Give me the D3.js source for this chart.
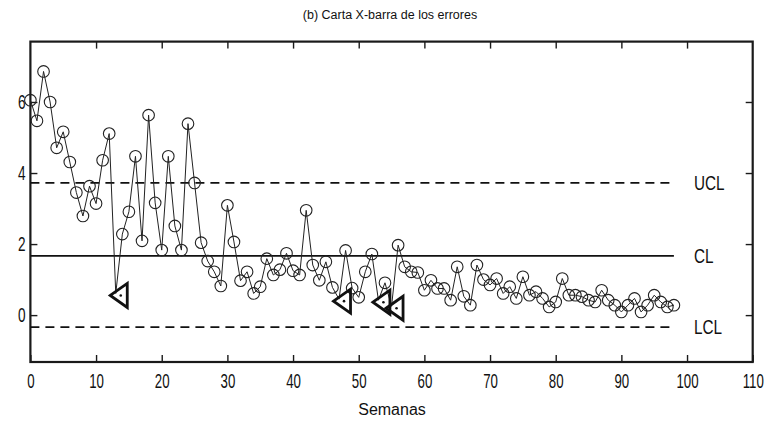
<!DOCTYPE html>
<html>
<head>
<meta charset="utf-8">
<script src="https://cdn.jsdelivr.net/npm/d3@7"></script>
<style>
  html, body { margin: 0; padding: 0; background: #fff; }
  svg { display: block; }
</style>
</head>
<body>
<svg id="chart" width="768" height="427"></svg>
<script>
// ---- data ----
const weekValues = [
  6.05, 5.47, 6.86, 6.00, 4.71, 5.16, 4.31, 3.45, 2.79, 3.63,
  3.14, 4.36, 5.11, 0.61, 2.28, 2.91, 4.47, 2.09, 5.63, 3.16,
  1.83, 4.47, 2.51, 1.83, 5.39, 3.72, 2.04, 1.52, 1.22, 0.82,
  3.09, 2.06, 0.97, 1.22, 0.61, 0.80, 1.59, 1.13, 1.28, 1.74,
  1.25, 1.13, 2.95, 1.41, 0.98, 1.50, 0.78, 0.45, 1.82, 0.76,
  0.50, 1.22, 1.72, 0.42, 0.91, 0.25, 1.97, 1.36, 1.22, 1.20,
  0.70, 0.98, 0.75, 0.75, 0.42, 1.36, 0.53, 0.28, 1.41, 1.00,
  0.85, 1.03, 0.61, 0.80, 0.47, 1.08, 0.56, 0.66, 0.47, 0.23,
  0.37, 1.03, 0.56, 0.56, 0.52, 0.42, 0.37, 0.70, 0.42, 0.28,
  0.09, 0.28, 0.47, 0.09, 0.28, 0.56, 0.37, 0.23, 0.28
];
const flaggedWeeks = [13, 47, 53, 55];
const limitNames = ["UCL", "CL", "LCL"];
const limitValues = [3.72, 1.67, -0.34];
const limitDashed = [true, false, true];
const xTicks = [0, 10, 20, 30, 40, 50, 60, 70, 80, 90, 100, 110];
const yTicks = [0, 2, 4, 6];
const titleText = "(b) Carta X-barra de los errores";
const xLabelText = "Semanas";

// ---- layout ----
const svg = d3.select("#chart");
const pL = 30.4, pR = 752.7, pT = 41.6, pB = 362;
const x = d3.scaleLinear().domain([0, 110]).range([pL, pR]);
const y = d3.scaleLinear().domain([-1.32, 7.7]).range([pB, pT]);
const ink = "#1a1a1a";
const narrow = "Liberation Sans, Arial, sans-serif";

// title
svg.append("text")
  .attr("x", 390).attr("y", 19)
  .attr("text-anchor", "middle")
  .attr("font-family", narrow)
  .attr("font-size", 12.5)
  .attr("fill", "#111")
  .text(titleText);

// axes
function styleAxis(g, sx, sy) {
  g.select(".domain").remove();
  g.selectAll(".tick line").attr("stroke", ink).attr("stroke-width", 1.4);
  g.selectAll(".tick text")
    .attr("font-family", narrow)
    .attr("font-size", 17)
    .attr("fill", "#111")
    .attr("transform", `scale(${sx},${sy})`);
}
svg.append("g").attr("transform", `translate(0,${pB})`)
  .call(d3.axisBottom(x).tickValues(xTicks).tickSize(-7).tickPadding(10).tickFormat(d3.format("d")))
  .call(g => styleAxis(g, 0.78, 1.2));
svg.append("g").attr("transform", `translate(0,${pT})`)
  .call(d3.axisTop(x).tickValues(xTicks.slice(1, -1)).tickSize(-7).tickFormat(""))
  .call(g => styleAxis(g, 1, 1));
svg.append("g").attr("transform", `translate(${pL},0)`)
  .call(d3.axisLeft(y).tickValues(yTicks).tickSize(-7).tickPadding(6).tickFormat(d3.format("d")))
  .call(g => styleAxis(g, 0.8, 1))
  .call(g => g.selectAll(".tick text").attr("transform", "scale(0.8,1.2)").attr("y", function(){ return 0; })
    .attr("dy", "0.32em"));
// left tick labels: rescale around their own tick position
svg.selectAll("g.left-fix").remove();
svg.append("g").attr("transform", `translate(${pR},0)`)
  .call(d3.axisRight(y).tickValues(yTicks).tickSize(-7).tickFormat(""))
  .call(g => styleAxis(g, 1, 1));

// frame
svg.append("rect")
  .attr("x", pL).attr("y", pT)
  .attr("width", pR - pL).attr("height", pB - pT)
  .attr("fill", "none").attr("stroke", ink).attr("stroke-width", 2.2);

// control limits
const lastWeek = weekValues.length - 1;
limitValues.forEach((v, i) => {
  svg.append("line")
    .attr("x1", x(0)).attr("x2", x(lastWeek))
    .attr("y1", y(v)).attr("y2", y(v))
    .attr("stroke", "#111")
    .attr("stroke-width", 1.8)
    .attr("stroke-dasharray", limitDashed[i] ? "9,6" : null);
  svg.append("text")
    .attr("transform", `translate(${x(lastWeek) + 20},${y(v) + 7}) scale(0.85,1.12)`)
    .attr("font-family", narrow)
    .attr("font-size", 18)
    .attr("fill", "#111")
    .text(limitNames[i]);
});

// series line
const pts = weekValues.map((v, i) => [i, v]);
svg.append("path")
  .datum(pts)
  .attr("fill", "none")
  .attr("stroke", "#222")
  .attr("stroke-width", 1)
  .attr("d", d3.line().x(d => x(d[0])).y(d => y(d[1])));

// circle markers
svg.append("g").selectAll("circle")
  .data(pts.filter(d => !flaggedWeeks.includes(d[0])))
  .join("circle")
  .attr("cx", d => x(d[0])).attr("cy", d => y(d[1]))
  .attr("r", 5.8)
  .attr("fill", "none")
  .attr("stroke", "#222")
  .attr("stroke-width", 1.1);

// flagged triangles (pointing left)
const flagged = pts.filter(d => flaggedWeeks.includes(d[0]));
const tri = svg.append("g").selectAll("g")
  .data(flagged).join("g")
  .attr("transform", d => `translate(${x(d[0]) + 3},${y(d[1]) + 2})`);
tri.append("path")
  .attr("d", "M-8.5,0 L8.5,-12 L8.5,12 Z")
  .attr("fill", "none")
  .attr("stroke", "#111")
  .attr("stroke-width", 2.8)
  .attr("stroke-linejoin", "miter");
tri.append("circle")
  .attr("cx", 2).attr("cy", 0).attr("r", 1.3).attr("fill", "#111");

// x label
svg.append("text")
  .attr("x", 392).attr("y", 415)
  .attr("text-anchor", "middle")
  .attr("font-family", narrow)
  .attr("font-size", 16)
  .attr("fill", "#111")
  .text(xLabelText);
</script>
</body>
</html>
